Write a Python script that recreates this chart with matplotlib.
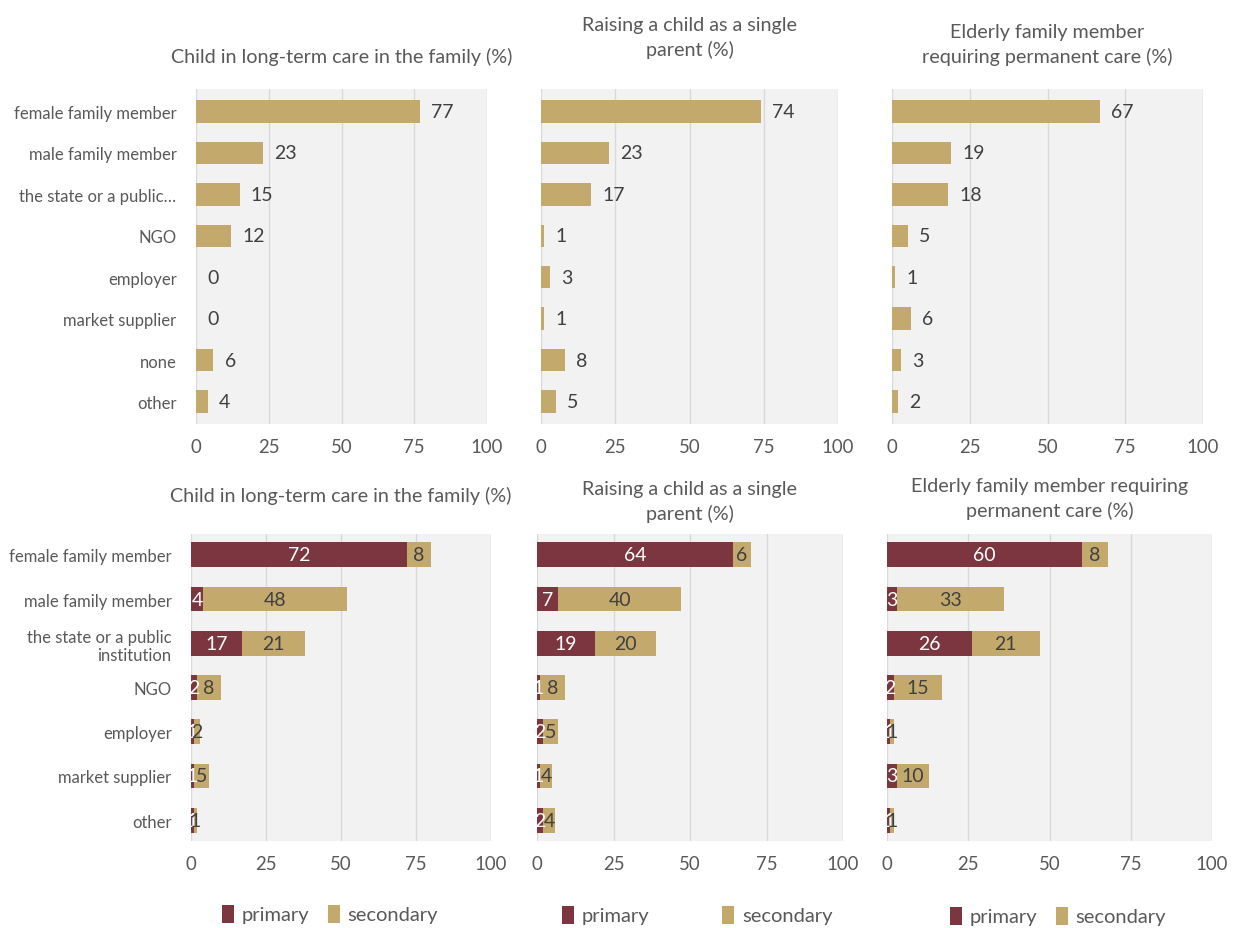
import numpy as np
import matplotlib.pyplot as plt

plt.rcParams['font.family'] = ['Lato', 'DejaVu Sans']

# top row: single series per panel
top_cats = ["female family member", "male family member", "the state or a public\u2026",
            "NGO", "employer", "market supplier", "none", "other"]
top_child = [77, 23, 15, 12, 0, 0, 6, 4]
top_single = [74, 23, 17, 1, 3, 1, 8, 5]
top_elderly = [67, 19, 18, 5, 1, 6, 3, 2]

# bottom row: primary / secondary
bot_cats = ["female family member", "male family member", "the state or a public\ninstitution",
            "NGO", "employer", "market supplier", "other"]
child_primary = [72, 4, 17, 2, 1, 1, 1]
child_secondary = [8, 48, 21, 8, 2, 5, 1]
single_primary = [64, 7, 19, 1, 2, 1, 2]
single_secondary = [6, 40, 20, 8, 5, 4, 4]
elderly_primary = [60, 3, 26, 2, 1, 3, 1]
elderly_secondary = [8, 33, 21, 15, 1, 10, 1]

titles = ["Child in long-term care in the family (%)",
          "Raising a child as a single\nparent (%)",
          "Elderly family member\nrequiring permanent care (%)"]
titles_bot = ["Child in long-term care in the family (%)",
              "Raising a child as a single\nparent (%)",
              "Elderly family member requiring\npermanent care (%)"]

TAN = '#c4a96c'
MAROON = '#7b3640'
GRAY = '#595959'
W, H = 1233, 929

fig = plt.figure(figsize=(W / 100, H / 100), dpi=100)


def px_axes(x0, x1, y0, y1):
    return fig.add_axes([x0 / W, 1 - y1 / H, (x1 - x0) / W, (y1 - y0) / H])


def style(ax, n, pad):
    ax.set_facecolor('#f2f2f2')
    ax.set_xlim(0, 100)
    ax.set_ylim(n - 1 + pad, -pad)
    ax.set_xticks([0, 25, 50, 75, 100])
    ax.grid(axis='x', color='#d9d9d9', linewidth=1)
    ax.set_axisbelow(True)
    for s in ax.spines.values():
        s.set_visible(False)
    ax.tick_params(axis='x', length=0, labelsize=13.4, labelcolor=GRAY, pad=10)
    ax.tick_params(axis='y', length=0, labelsize=12, labelcolor=GRAY, pad=14)


# top row
top_boxes = [(196, 487), (541, 838), (892, 1203)]
top_title_y = [57, 38, 45]
for i, (vals, (x0, x1)) in enumerate(zip([top_child, top_single, top_elderly], top_boxes)):
    ax = px_axes(x0, x1, 90, 425)
    y = np.arange(len(top_cats))
    ax.barh(y, vals, height=0.54, color=TAN)
    style(ax, len(top_cats), 0.54)
    ax.set_yticks(y)
    ax.set_yticklabels(top_cats if i == 0 else [])
    for yy, v in zip(y, vals):
        ax.annotate(str(v), (v, yy), xytext=(8, 0), textcoords='offset points',
                    ha='left', va='center', fontsize=14, color='#404040')
    fig.text((x0 + x1) / 2 / W, 1 - top_title_y[i] / H, titles[i], ha='center', va='center',
             fontsize=14.2, color=GRAY, linespacing=1.4)

# bottom row
bot_boxes = [(191, 491), (537, 843), (887, 1212)]
bot_title_y = [496, 502, 499]
leg_pos = [(330, 915), (697, 916), (1058, 917)]
bot_data = [(child_primary, child_secondary), (single_primary, single_secondary),
            (elderly_primary, elderly_secondary)]
for i, ((prim, sec), (x0, x1)) in enumerate(zip(bot_data, bot_boxes)):
    ax = px_axes(x0, x1, 535, 842)
    y = np.arange(len(bot_cats))
    b1 = ax.barh(y, prim, height=0.56, color=MAROON, label='primary')
    b2 = ax.barh(y, sec, left=prim, height=0.56, color=TAN, label='secondary')
    style(ax, len(bot_cats), 0.47)
    ax.set_yticks(y)
    ax.set_yticklabels(bot_cats if i == 0 else [])
    for yy, p, s in zip(y, prim, sec):
        ax.text(p / 2, yy, str(p), ha='center', va='center', fontsize=14, color='white')
        ax.text(p + s / 2, yy, str(s), ha='center', va='center', fontsize=14, color='#404040')
    fig.text((x0 + x1) / 2 / W, 1 - bot_title_y[i] / H, titles_bot[i], ha='center', va='center',
             fontsize=14.2, color=GRAY, linespacing=1.4)
    lx, ly = leg_pos[i]
    fig.legend([b1, b2], ['primary', 'secondary'], loc='center',
               bbox_to_anchor=(lx / W, 1 - ly / H), ncol=2, frameon=False,
               fontsize=14.5, labelcolor=GRAY, handlelength=0.6, handleheight=1.0,
               columnspacing=0.9 if i != 1 else 3.6, handletextpad=0.4)

fig.savefig('out.png', dpi=100, facecolor='white')
